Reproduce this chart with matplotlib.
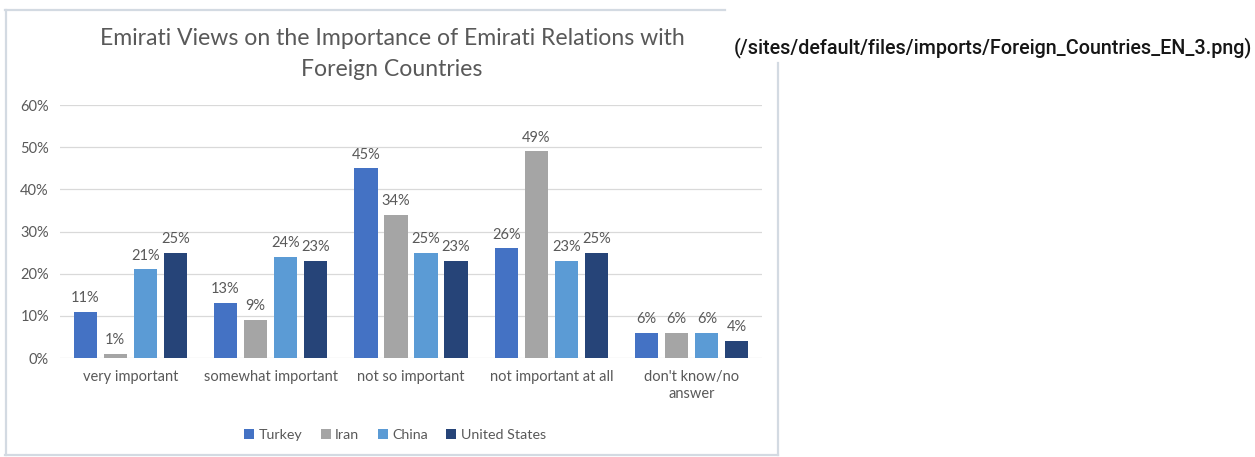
import numpy as np
import matplotlib.pyplot as plt
from matplotlib.lines import Line2D

categories = ['very important', 'somewhat important', 'not so important',
              'not important at all', "don't know/no\nanswer"]
countries = ['Turkey', 'Iran', 'China', 'United States']
turkey = [11, 13, 45, 26, 6]
iran = [1, 9, 34, 49, 6]
china = [21, 24, 25, 23, 6]
usa = [25, 23, 23, 25, 4]
yticks = [0, 10, 20, 30, 40, 50, 60]

colors = ['#4472C4', '#A5A5A5', '#5B9BD5', '#264478']
txt = '#595959'

plt.rcParams['font.family'] = ['Lato', 'DejaVu Sans']

W, H = 1255, 457
fig = plt.figure(figsize=(W / 100, H / 100), dpi=100)
ax = fig.add_axes([60 / W, 1 - 358 / H, 702 / W, 253 / H])


def px_line(x0, y0, x1, y1):
    fig.add_artist(Line2D([x0 / W, x1 / W], [1 - y0 / H, 1 - y1 / H],
                          transform=fig.transFigure, color='#D3DAE2', lw=1.6))


# frame around the chart (top and right edges cut by the caption)
px_line(5, 10, 725, 10)
px_line(6, 10, 6, 455)
px_line(5, 455, 778, 455)
px_line(778, 63, 778, 455)

x = np.arange(len(categories))
width = 0.165
step = 0.214
for i, (vals, name) in enumerate(zip([turkey, iran, china, usa], countries)):
    pos = x + (i - 1.5) * step
    bars = ax.bar(pos, vals, width, color=colors[i], label=name, zorder=3)
    for b, v in zip(bars, vals):
        ax.text(b.get_x() + b.get_width() / 2, v + 1.6, f'{v}%',
                ha='center', va='bottom', fontsize=10.5, color=txt)

ax.set_xlim(-0.5, len(categories) - 0.5)
ax.set_ylim(0, 60)
ax.set_yticks(yticks)
ax.set_yticklabels([f'{t}%' for t in yticks])
ax.set_xticks(x)
ax.set_xticklabels(categories)
ax.grid(axis='y', color='#D9D9D9', lw=0.9, zorder=0)
for s in ax.spines.values():
    s.set_visible(False)
ax.tick_params(length=0, colors=txt, labelsize=10.5)
ax.tick_params(axis='x', pad=9)
ax.tick_params(axis='y', pad=8)

fig.text(392 / W, 1 - 54 / H,
         'Emirati Views on the Importance of Emirati Relations with\nForeign Countries',
         ha='center', va='center', fontsize=16.6, color=txt, linespacing=1.62)

fig.legend(loc='center', bbox_to_anchor=(395 / W, 1 - 435 / H), ncol=4,
           frameon=False, fontsize=10.3, labelcolor=txt, handlelength=0.7,
           handleheight=0.7, handletextpad=0.3, columnspacing=1.3)

fig.text(1252 / W, 1 - 48 / H,
         '(/sites/default/files/imports/Foreign_Countries_EN_3.png)',
         ha='right', va='center', fontsize=14.2, color='#161616',
         family=['Roboto', 'DejaVu Sans'], fontweight='medium')

fig.savefig('out.png', dpi=100)
